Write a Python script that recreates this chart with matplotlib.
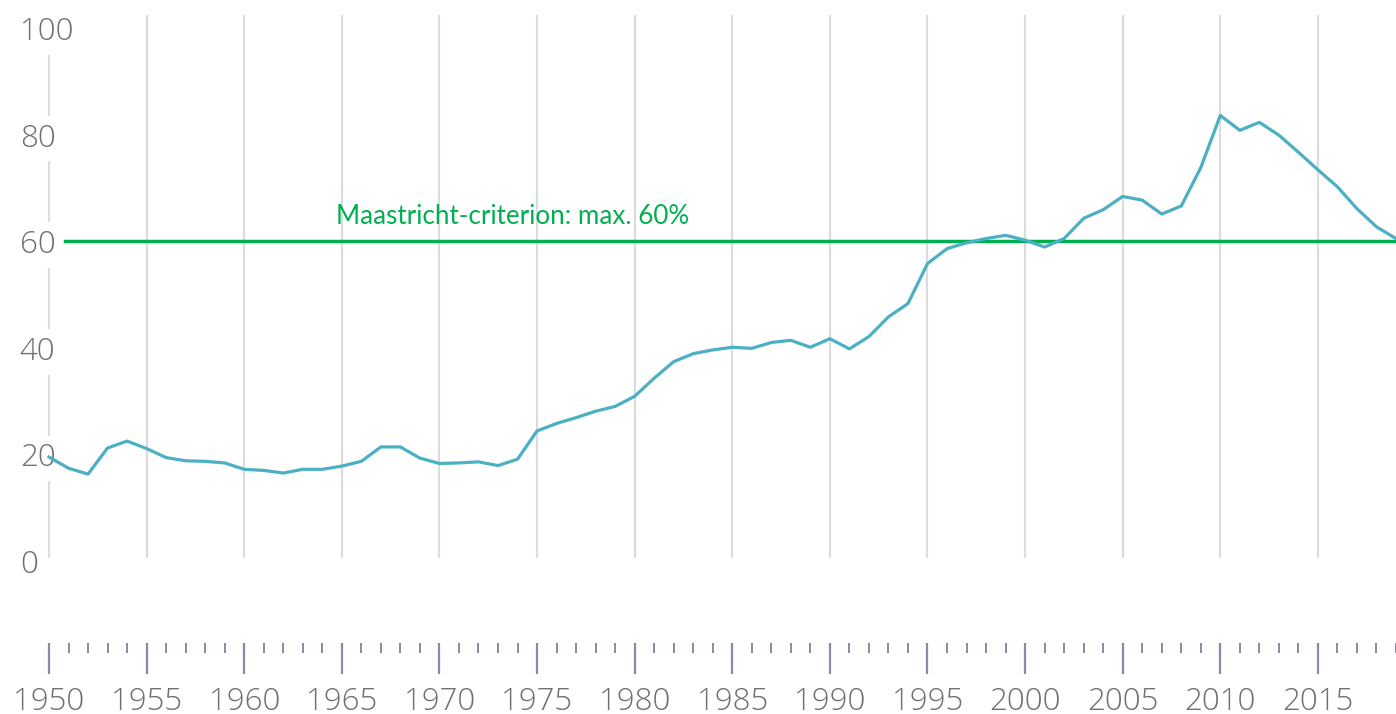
import numpy as np
import matplotlib
matplotlib.use('Agg')
import matplotlib.pyplot as plt

# debt ratio (% of GDP)
years = np.arange(1950, 2020)
debt = [19.5, 17.4, 16.3, 21.2, 22.5, 21.1, 19.4, 18.8, 18.7, 18.4,
        17.2, 17.0, 16.5, 17.2, 17.2, 17.8, 18.7, 21.4, 21.4, 19.3,
        18.3, 18.4, 18.6, 17.9, 19.1, 24.4, 25.8, 26.9, 28.1, 29.0,
        30.9, 34.3, 37.4, 38.9, 39.6, 40.1, 39.9, 41.0, 41.4, 40.1,
        41.7, 39.8, 42.1, 45.8, 48.3, 55.8, 58.6, 59.7, 60.5, 61.1,
        60.2, 58.9, 60.5, 64.3, 65.9, 68.4, 67.7, 65.1, 66.6, 73.8,
        83.6, 80.8, 82.3, 79.9, 76.7, 73.4, 70.2, 66.1, 62.7, 60.5]
ytick_vals = [0, 20, 40, 60, 80, 100]
major_years = np.arange(1950, 2020, 5)
limit = 60
limit_label = 'Maastricht-criterion: max. 60%'

W, H = 1396, 714
fig = plt.figure(figsize=(W / 100, H / 100), dpi=100)

def fx(px):
    return px / W

def fy(py):
    return 1 - py / H

lab_font = dict(family='Open Sans', weight='light')

# main panel
ax = fig.add_axes([fx(49), fy(561), fx(W - 49), fy(28) - fy(561)])
ax.set_xlim(1950, 2019)
ax.set_ylim(0, 100)
for s in ax.spines.values():
    s.set_visible(False)
ax.set_xticks([])

ax.vlines(major_years, 0.6, 102.4, color='#dcdcdc', lw=1.6, zorder=0, clip_on=False)

ax.set_yticks(ytick_vals)
ax.set_yticklabels([str(v) for v in ytick_vals])
ax.tick_params(axis='y', length=0, pad=21, labelsize=22.5, labelcolor='#707070')
for t in ax.get_yticklabels():
    t.set_horizontalalignment('left')
    t.set_family(lab_font['family'])
    t.set_fontweight(lab_font['weight'])
    t.set_bbox(dict(facecolor='white', edgecolor='none', pad=5))

ax.axhline(limit, xmin=(65 - 49) / (W - 49), xmax=1, color='#00b050', lw=2.5, zorder=3)
ax.text(1950 + (336 - 49) / 19.52, limit + 3.2, limit_label, color='#00b050',
        fontsize=18.7, family='Lato', ha='left', va='baseline')

ax.plot(years, debt, color='#4bb0c3', lw=2.3, zorder=4, clip_on=False)

# bottom time scale
ax2 = fig.add_axes([fx(49), fy(673), fx(W - 49), fy(643) - fy(673)])
ax2.set_xlim(1950, 2019)
ax2.set_ylim(0, 1)
for s in ax2.spines.values():
    s.set_visible(False)
ax2.set_yticks([])
ax2.set_xticks(major_years)
ax2.set_xticks(years, minor=True)
ax2.set_xticklabels([str(y) for y in major_years])
ax2.tick_params(axis='x', which='both', top=True, bottom=False, labelbottom=True,
                labeltop=False, direction='in', color='#8a8aa8')
ax2.tick_params(axis='x', which='major', length=22.5, width=1.6, pad=9,
                labelsize=22.5, labelcolor='#707070')
ax2.tick_params(axis='x', which='minor', length=7.5, width=1.4)
for t in ax2.get_xticklabels():
    t.set_family(lab_font['family'])
    t.set_fontweight(lab_font['weight'])

fig.savefig('out.png', dpi=100)
